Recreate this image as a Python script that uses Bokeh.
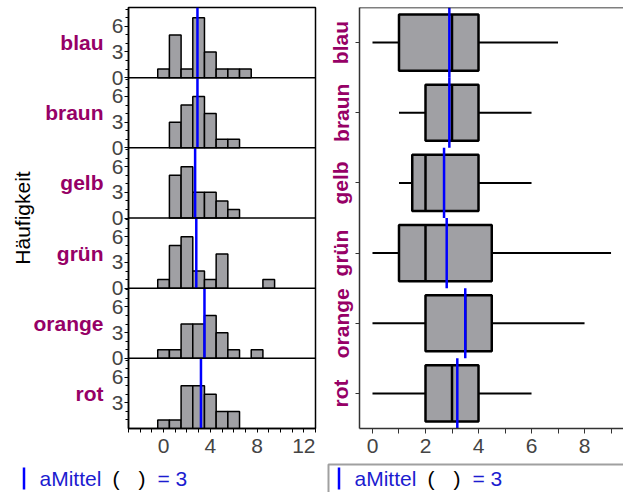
import math
import numpy as np
from bokeh.plotting import figure
from bokeh.models import FixedTicker, LinearAxis, Span, FactorRange, Range1d
from bokeh.layouts import row, column
from bokeh.embed import file_html
from bokeh.resources import INLINE
from bokeh.core.properties import value

# ---------------- data ----------------
categories = ["blau", "braun", "gelb", "grün", "orange", "rot"]
bin_centers = [0, 1, 2, 3, 4, 5, 6, 7, 8, 9]
counts_blau = [1, 5, 1, 7, 3, 1, 1, 1, 0, 0]
counts_braun = [0, 3, 5, 6, 4, 1, 1, 0, 0, 0]
counts_gelb = [0, 5, 6, 3, 3, 2, 1, 0, 0, 0]
counts_gruen = [1, 5, 6, 2, 1, 4, 0, 0, 0, 1]
counts_orange = [1, 1, 4, 4, 5, 3, 1, 0, 1, 0]
counts_rot = [1, 1, 5, 5, 4, 2, 2, 0, 0, 0]
hist_y_ticks = [0, 3, 6]
left_x_ticks = [0, 4, 8, 12]
left_x_minor = [-3, -2, -1, 1, 2, 3, 5, 6, 7, 9, 10, 11, 13]
right_x_ticks = [0, 2, 4, 6, 8]
right_x_minor = [1, 3, 5, 7, 9]
y_axis_title = "Häufigkeit"
legend_parts = ["aMittel", "(", ")", "= 3"]

counts = dict(zip(categories, [counts_blau, counts_braun, counts_gelb,
                               counts_gruen, counts_orange, counts_rot]))

# statistics derived from the data
raw = {c: np.repeat(bin_centers, counts[c]) for c in categories}
mins = [float(raw[c].min()) for c in categories]
maxs = [float(raw[c].max()) for c in categories]
q1s = [float(np.percentile(raw[c], 25, method="midpoint")) for c in categories]
meds = [float(np.percentile(raw[c], 50, method="midpoint")) for c in categories]
q3s = [float(np.percentile(raw[c], 75, method="midpoint")) for c in categories]
means = [float(raw[c].mean()) for c in categories]

# ---------------- style ----------------
FONT = "Liberation Sans"
PURPLE = "#960066"
BLUE = "#0000ff"
TXTBLUE = "#1c1cd0"
GRAY = "#a0a0a4"
FS = "21px"
PANEL = 8.2
n = len(categories)
base = {c: (n - 1 - i) * PANEL for i, c in enumerate(categories)}
MAIN_H = 462
LEG_H = 492 - MAIN_H

# ---------------- histograms ----------------
hist = figure(width=318, height=MAIN_H, x_range=Range1d(-3, 13), y_range=Range1d(0, n * PANEL),
              output_backend="svg", toolbar_location=None,
              min_border_left=128, min_border_right=3, min_border_top=7,
              min_border_bottom=MAIN_H - 428)
hist.grid.visible = False
hist.outline_line_color = "black"
hist.outline_line_width = 1.5

L, R, B, T = [], [], [], []
for c in categories:
    for x, k in zip(bin_centers, counts[c]):
        if k > 0:
            L.append(x - 0.5); R.append(x + 0.5)
            B.append(base[c]); T.append(base[c] + k)
hist.quad(left=L, right=R, bottom=B, top=T, fill_color=GRAY, line_color="black", line_width=1.5)

for c in categories:
    if base[c] > 0:
        hist.add_layout(Span(location=base[c], dimension="width", line_color="black", line_width=1.5))

hist.segment(x0=means, x1=means, y0=[base[c] for c in categories],
             y1=[base[c] + PANEL for c in categories], line_color=BLUE, line_width=2.5)

yt, ym, ov = [], [], {}
for c in categories:
    b = base[c]
    for t in hist_y_ticks:
        if b == 0 and t == 0:
            continue
        yt.append(b + t)
        ov[b + t] = str(t)
    for m in range(1, 9):
        if m not in hist_y_ticks:
            ym.append(b + m)

ya = hist.yaxis[0]
ya.ticker = FixedTicker(ticks=yt, minor_ticks=ym)
ya.major_label_overrides = ov
ya.major_tick_out = 4; ya.major_tick_in = 0
ya.minor_tick_out = 3; ya.minor_tick_in = 0
ya.major_label_standoff = 1
ya.major_label_text_font = FONT
ya.major_label_text_font_size = FS
ya.axis_line_width = 1.5

xa = hist.xaxis[0]
xa.ticker = FixedTicker(ticks=left_x_ticks, minor_ticks=left_x_minor)
xa.major_tick_out = 4; xa.major_tick_in = 0
xa.minor_tick_out = 4; xa.minor_tick_in = 0
xa.major_label_standoff = 6
xa.major_label_text_font = FONT
xa.major_label_text_font_size = FS
xa.axis_line_width = 1.5

cat_ticks = [base[c] + 4.1 for c in categories]
cax = LinearAxis(ticker=FixedTicker(ticks=cat_ticks, minor_ticks=[]),
                 major_label_overrides={t: c for t, c in zip(cat_ticks, categories)},
                 axis_line_color=None, major_tick_line_color=None, minor_tick_line_color=None,
                 major_tick_out=0, major_tick_in=0, minor_tick_out=0, minor_tick_in=0,
                 major_label_standoff=5, major_label_text_font=FONT,
                 major_label_text_font_size=FS, major_label_text_font_style="bold",
                 major_label_text_color=PURPLE,
                 axis_label=y_axis_title, axis_label_standoff=-4, axis_label_text_font=FONT,
                 axis_label_text_font_size=FS, axis_label_text_font_style="normal",
                 axis_label_text_color="black")
hist.add_layout(cax, "left")

# ---------------- box plots ----------------
box = figure(width=305, height=MAIN_H, x_range=Range1d(-0.49, 9.47),
             y_range=FactorRange(factors=categories[::-1]),
             output_backend="svg", toolbar_location=None,
             min_border_left=41, min_border_right=0, min_border_top=7,
             min_border_bottom=MAIN_H - 428)
box.grid.visible = False
box.outline_line_color = None
box.add_layout(Span(location=n, dimension="width", line_color="black", line_width=1.5))

box.segment(x0=mins, x1=q1s, y0=categories, y1=categories, line_color="black", line_width=2)
box.segment(x0=q3s, x1=maxs, y0=categories, y1=categories, line_color="black", line_width=2)
box.hbar(y=categories, left=q1s, right=q3s, height=0.8, fill_color=GRAY,
         line_color="black", line_width=2.5)
box.segment(x0=meds, x1=meds, y0=[(c, -0.4) for c in categories], y1=[(c, 0.4) for c in categories],
            line_color="black", line_width=2.5)
box.segment(x0=means, x1=means, y0=[(c, -0.5) for c in categories], y1=[(c, 0.5) for c in categories],
            line_color=BLUE, line_width=2.5)

bx = box.xaxis[0]
bx.ticker = FixedTicker(ticks=right_x_ticks, minor_ticks=right_x_minor)
bx.major_tick_out = 5; bx.major_tick_in = 0
bx.minor_tick_out = 5; bx.minor_tick_in = 0
bx.major_label_standoff = 5
bx.major_label_text_font = FONT
bx.major_label_text_font_size = FS
bx.axis_line_color = "#333333"; bx.axis_line_width = 1.5
bx.major_tick_line_color = "#333333"; bx.minor_tick_line_color = "#333333"

by = box.yaxis[0]
by.major_label_orientation = "vertical"
by.major_tick_out = 4; by.major_tick_in = 0
by.major_label_standoff = 3
by.major_label_text_font = FONT
by.major_label_text_font_size = FS
by.major_label_text_font_style = "bold"
by.major_label_text_color = PURPLE
by.axis_line_color = "#333333"; by.axis_line_width = 1.5
by.major_tick_line_color = "#333333"


# ---------------- legend rows ----------------
def legend_fig(width, shift, box_left):
    lg = figure(width=width, height=LEG_H, x_range=Range1d(0, width), y_range=Range1d(0, LEG_H),
                x_axis_type=None, y_axis_type=None, output_backend="svg", title=None,
                toolbar_location=None, min_border=0)
    lg.grid.visible = False
    lg.outline_line_color = None
    if box_left is not None:
        lg.quad(left=[box_left], right=[width + 10], bottom=[-10], top=[LEG_H - 2], fill_color=None,
                line_color="#a0a0a0", line_width=2)
    lg.segment(x0=[23.5 + shift], x1=[23.5 + shift], y0=[3], y1=[25], line_color=BLUE, line_width=2.5)
    lg.text(x=[39 + shift, 112 + shift, 138 + shift, 157 + shift], y=[14, 14, 14, 14],
            text=legend_parts, text_color=[TXTBLUE, "black", "black", TXTBLUE],
            text_font=value(FONT), text_font_size=value(FS), text_baseline="middle")
    return lg


legL = legend_fig(318, 0, None)
legR = legend_fig(305, -3, 10)

layout = column(row(hist, box), row(legL, legR))
open("out.html", "w").write(file_html(layout, INLINE))
